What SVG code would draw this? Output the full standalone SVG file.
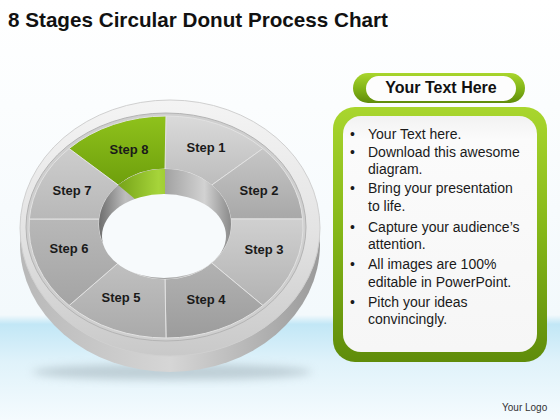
<svg xmlns="http://www.w3.org/2000/svg" width="560" height="420" viewBox="0 0 560 420">
<defs>
  <linearGradient id="bg" x1="0" y1="0" x2="0" y2="1">
    <stop offset="0" stop-color="#ffffff"/>
    <stop offset="0.75" stop-color="#f3f9fc"/>
    <stop offset="0.772" stop-color="#c2e7f6"/>
    <stop offset="0.86" stop-color="#dff2fa"/>
    <stop offset="1" stop-color="#f5fbfe"/>
  </linearGradient>
  <linearGradient id="rimTop" x1="0" y1="0" x2="0" y2="1">
    <stop offset="0" stop-color="#f4f4f4"/>
    <stop offset="0.5" stop-color="#e4e4e4"/>
    <stop offset="1" stop-color="#c9c9c9"/>
  </linearGradient>
  <linearGradient id="rimSide" x1="0" y1="0" x2="1" y2="0">
    <stop offset="0" stop-color="#b8b8b8"/>
    <stop offset="0.5" stop-color="#d6d6d6"/>
    <stop offset="1" stop-color="#9a9a9a"/>
  </linearGradient>
  <linearGradient id="wall" x1="0" y1="0" x2="1" y2="0">
    <stop offset="0" stop-color="#6e6e6e"/>
    <stop offset="0.2" stop-color="#bdbdbd"/>
    <stop offset="0.5" stop-color="#a2a2a2"/>
    <stop offset="0.8" stop-color="#d2d2d2"/>
    <stop offset="1" stop-color="#8a8a8a"/>
  </linearGradient>
  <linearGradient id="wallG" x1="0" y1="0" x2="1" y2="0">
    <stop offset="0" stop-color="#5f8c08"/>
    <stop offset="0.45" stop-color="#a6d43a"/>
    <stop offset="1" stop-color="#6a960c"/>
  </linearGradient>
  <linearGradient id="g1" x1="0" y1="0" x2="0" y2="1"><stop offset="0" stop-color="#dadada"/><stop offset="1" stop-color="#bcbcbc"/></linearGradient>
  <linearGradient id="g2" x1="0" y1="0" x2="0" y2="1"><stop offset="0" stop-color="#c6c6c6"/><stop offset="1" stop-color="#a8a8a8"/></linearGradient>
  <linearGradient id="g3" x1="0" y1="0" x2="0" y2="1"><stop offset="0" stop-color="#d0d0d0"/><stop offset="1" stop-color="#b2b2b2"/></linearGradient>
  <linearGradient id="g4" x1="0" y1="0" x2="0" y2="1"><stop offset="0" stop-color="#b2b2b2"/><stop offset="1" stop-color="#9c9c9c"/></linearGradient>
  <linearGradient id="g5" x1="0" y1="0" x2="0" y2="1"><stop offset="0" stop-color="#c0c0c0"/><stop offset="1" stop-color="#aaaaaa"/></linearGradient>
  <linearGradient id="g6" x1="0" y1="0" x2="0" y2="1"><stop offset="0" stop-color="#b8b8b8"/><stop offset="1" stop-color="#a4a4a4"/></linearGradient>
  <linearGradient id="g7" x1="0" y1="0" x2="0" y2="1"><stop offset="0" stop-color="#cdcdcd"/><stop offset="1" stop-color="#b8b8b8"/></linearGradient>
  <linearGradient id="g8" x1="0" y1="0" x2="0" y2="1"><stop offset="0" stop-color="#8fc21c"/><stop offset="1" stop-color="#6e9f0c"/></linearGradient>
  <linearGradient id="green" x1="0" y1="0" x2="0" y2="1">
    <stop offset="0" stop-color="#a9d62e"/>
    <stop offset="0.5" stop-color="#84b618"/>
    <stop offset="1" stop-color="#5f8c0a"/>
  </linearGradient>
  <linearGradient id="panel" x1="0" y1="0" x2="0" y2="1">
    <stop offset="0" stop-color="#f2f2f2"/>
    <stop offset="0.1" stop-color="#fbfbfb"/>
    <stop offset="1" stop-color="#f6f6f6"/>
  </linearGradient>
  <clipPath id="clip8"><polygon points="165,224 165,150 95,150 95,165.7"/></clipPath>
  <filter id="shadow" x="-20%" y="-50%" width="140%" height="200%"><feGaussianBlur stdDeviation="4"/></filter>
  <style>
    .title{font-family:"Liberation Sans",Arial,sans-serif;font-weight:bold;font-size:21px;fill:#111}
    .step{font-family:"Liberation Sans",Arial,sans-serif;font-weight:bold;font-size:13px;fill:#1a1a1a;text-anchor:middle}
    .seg{stroke:#e2e2e2;stroke-width:1}
    .body{font-family:"Liberation Sans",Arial,sans-serif;font-size:14px;fill:#1a1a1a}
    .head{font-family:"Liberation Sans",Arial,sans-serif;font-weight:bold;font-size:16px;fill:#111;text-anchor:middle}
    .logo{font-family:"Liberation Sans",Arial,sans-serif;font-size:10px;fill:#333}
  </style>
</defs>

<rect x="0" y="0" width="560" height="420" fill="url(#bg)"/>

<text class="title" x="8" y="27" textLength="380" lengthAdjust="spacingAndGlyphs">8 Stages Circular Donut Process Chart</text>

<g id="donut">
  <ellipse cx="172" cy="372" rx="140" ry="8" fill="#9aaab2" opacity="0.5" filter="url(#shadow)"/>
  <ellipse cx="170" cy="244" rx="150" ry="128" fill="url(#rimSide)"/>
  <ellipse cx="170" cy="228" rx="150" ry="128" fill="url(#rimTop)" stroke="#d0d0d0" stroke-width="1"/>
  <ellipse cx="166" cy="227" rx="140" ry="114" fill="#cfcfcf" stroke="#b4b4b4" stroke-width="1"/>
</g>

<g id="step1"><path class="seg" fill="url(#g1)" d="M166,116 A137,111 0 0 1 262.87,148.51 L211.67,185.11 A66,55 0 0 0 165,169 Z"/><text class="step" x="206" y="152">Step 1</text></g>
<g id="step2"><path class="seg" fill="url(#g2)" d="M262.87,148.51 A137,111 0 0 1 302.64,219 L230.73,219 A66,55 0 0 0 211.67,185.11 Z"/><text class="step" x="259" y="195">Step 2</text></g>
<g id="step3"><path class="seg" fill="url(#g3)" d="M302.64,219 A137,111 0 0 1 262.87,305.49 L211.67,262.89 A66,55 0 0 0 230.73,219 Z"/><text class="step" x="264" y="254">Step 3</text></g>
<g id="step4"><path class="seg" fill="url(#g4)" d="M262.87,305.49 A137,111 0 0 1 166,338 L165,279 A66,55 0 0 0 211.67,262.89 Z"/><text class="step" x="206" y="304">Step 4</text></g>
<g id="step5"><path class="seg" fill="url(#g5)" d="M166,338 A137,111 0 0 1 69.13,305.49 L118.33,262.89 A66,55 0 0 0 165,279 Z"/><text class="step" x="121" y="302">Step 5</text></g>
<g id="step6"><path class="seg" fill="url(#g6)" d="M69.13,305.49 A137,111 0 0 1 29.36,219 L99.27,219 A66,55 0 0 0 118.33,262.89 Z"/><text class="step" x="69" y="253">Step 6</text></g>
<g id="step7"><path class="seg" fill="url(#g7)" d="M29.36,219 A137,111 0 0 1 69.13,148.51 L118.33,185.11 A66,55 0 0 0 99.27,219 Z"/><text class="step" x="72" y="195">Step 7</text></g>
<g id="step8"><path class="seg" fill="url(#g8)" d="M69.13,148.51 A137,111 0 0 1 166,116 L165,169 A66,55 0 0 0 118.33,185.11 Z"/><text class="step" x="129" y="154">Step 8</text></g>

<g id="hole">
  <ellipse cx="165" cy="224" rx="66" ry="55" fill="url(#wall)"/>
  <ellipse cx="165" cy="224" rx="66" ry="55" fill="url(#wallG)" clip-path="url(#clip8)"/>
  <ellipse cx="164" cy="236" rx="62" ry="42" fill="#f7fafc"/>
</g>

<g id="header">
  <rect x="353" y="73" width="172" height="30" rx="15" fill="url(#green)"/>
  <rect x="366" y="76" width="150" height="25" rx="12.5" fill="#fdfdfd"/>
  <text class="head" x="441" y="93">Your Text Here</text>
</g>

<g id="textbox">
  <rect x="333" y="107" width="214" height="255" rx="22" fill="url(#green)"/>
  <rect x="343" y="116" width="194" height="236" rx="18" fill="url(#panel)"/>
  <g class="body">
    <text x="350" y="139">•</text><text x="368" y="139">Your Text here.</text>
    <text x="350" y="157">•</text><text x="368" y="157">Download this awesome</text>
    <text x="368" y="174">diagram.</text>
    <text x="350" y="193">•</text><text x="368" y="193">Bring your presentation</text>
    <text x="368" y="211">to life.</text>
    <text x="350" y="232">•</text><text x="368" y="232">Capture your audience’s</text>
    <text x="368" y="249">attention.</text>
    <text x="350" y="269">•</text><text x="368" y="269">All images are 100%</text>
    <text x="368" y="287">editable in PowerPoint.</text>
    <text x="350" y="307">•</text><text x="368" y="307">Pitch your ideas</text>
    <text x="368" y="324">convincingly.</text>
  </g>
</g>

<text class="logo" x="502" y="411">Your Logo</text>
</svg>
